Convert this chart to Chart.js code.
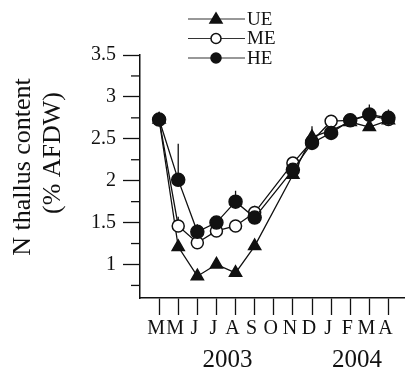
<!DOCTYPE html>
<html>
<head>
<meta charset="utf-8">
<script src="https://cdn.jsdelivr.net/npm/chart.js@4/dist/chart.umd.min.js"></script>
<style>
  html, body { margin: 0; padding: 0; background: #fff; }
  #wrap { width: 413px; height: 370px; }
</style>
</head>
<body>
<div id="wrap"><canvas id="nChart" width="413" height="370"></canvas></div>
<script>
// months May 2003 .. Apr 2004 (no sample in October)
const MONTHS = ['M', 'M', 'J', 'J', 'A', 'S', 'O', 'N', 'D', 'J', 'F', 'M', 'A'];
const YEARS = ['2003', '2004'];
const YEAR_AT = [3.58, 10.35];
const Y_TICKS = [1, 1.5, 2, 2.5, 3, 3.5];
const Y_MINOR = [0.75, 1.25, 1.75, 2.25, 2.75, 3.25];

const UE = [2.73, 1.21, 0.86, 1.00, 0.90, 1.22, null, 2.07, 2.52, 2.60, 2.70, 2.64, 2.72];
const ME = [2.73, 1.46, 1.26, 1.40, 1.46, 1.62, null, 2.21, 2.47, 2.71, 2.72, 2.78, 2.73];
const HE = [2.73, 2.01, 1.39, 1.50, 1.75, 1.56, null, 2.13, 2.45, 2.57, 2.72, 2.79, 2.75];

// upper error bar lengths
const UE_ERR = [0.06, 0, 0, 0, 0, 0, null, 0, 0.13, 0, 0, 0, 0];
const ME_ERR = [0.05, 0.11, 0.04, 0, 0, 0.08, null, 0.05, 0, 0, 0, 0, 0];
const HE_ERR = [0.08, 0.43, 0.09, 0.07, 0.13, 0.03, null, 0, 0, 0, 0, 0.12, 0.10];

const INK = '#111';
const SERIF = '"Liberation Serif", "Times New Roman", serif';

const toPoints = arr => arr.map((v, i) => ({x: i, y: v})).filter(p => p.y !== null);

const series = [
  {label: 'UE', data: UE, err: UE_ERR, style: 'triangle', fill: INK, r: 7},
  {label: 'ME', data: ME, err: ME_ERR, style: 'circle', fill: '#fff', r: 6},
  {label: 'HE', data: HE, err: HE_ERR, style: 'circle', fill: INK, r: 6.5}
];

const errorBars = {
  id: 'errorBars',
  beforeDatasetsDraw(chart) {
    const {ctx, scales: {x, y}} = chart;
    ctx.save();
    ctx.strokeStyle = INK;
    ctx.lineWidth = 1.3;
    series.forEach(s => {
      s.err.forEach((e, i) => {
        if (!e || s.data[i] === null) return;
        const px = x.getPixelForValue(i);
        ctx.beginPath();
        ctx.moveTo(px, y.getPixelForValue(s.data[i]));
        ctx.lineTo(px, y.getPixelForValue(s.data[i] + e));
        ctx.stroke();
      });
    });
    ctx.restore();
  }
};

const extras = {
  id: 'extras',
  afterDraw(chart) {
    const {ctx, scales: {x, y}} = chart;
    ctx.save();
    ctx.strokeStyle = INK;
    ctx.fillStyle = INK;
    ctx.lineWidth = 1.3;

    // minor y ticks
    Y_MINOR.forEach(v => {
      const py = y.getPixelForValue(v);
      ctx.beginPath();
      ctx.moveTo(x.left - 9, py);
      ctx.lineTo(x.left, py);
      ctx.stroke();
    });

    // years under month labels
    ctx.font = '25px ' + SERIF;
    ctx.textAlign = 'center';
    ctx.textBaseline = 'middle';
    YEARS.forEach((t, i) => ctx.fillText(t, x.getPixelForValue(YEAR_AT[i]), 360));

    // y axis title
    ctx.font = '26px ' + SERIF;
    ctx.save();
    ctx.translate(23, 167);
    ctx.rotate(-Math.PI / 2);
    ctx.fillText('N thallus content', 0, 0);
    ctx.restore();
    ctx.save();
    ctx.translate(53, 153);
    ctx.rotate(-Math.PI / 2);
    ctx.fillText('(% AFDW)', 0, 0);
    ctx.restore();

    // legend
    ctx.font = '19px ' + SERIF;
    ctx.textAlign = 'left';
    const rows = [19, 38.5, 58];
    series.forEach((s, i) => {
      const ly = rows[i];
      ctx.strokeStyle = '#333';
      ctx.lineWidth = 1.2;
      ctx.beginPath();
      ctx.moveTo(188, ly);
      ctx.lineTo(245, ly);
      ctx.stroke();
      ctx.strokeStyle = INK;
      ctx.lineWidth = 1.5;
      ctx.fillStyle = s.fill;
      ctx.beginPath();
      if (s.style === 'triangle') {
        ctx.moveTo(216, ly - 6);
        ctx.lineTo(222, ly + 4);
        ctx.lineTo(210, ly + 4);
        ctx.closePath();
      } else {
        ctx.arc(216, ly, 5, 0, Math.PI * 2);
      }
      ctx.fill();
      ctx.stroke();
      ctx.fillStyle = INK;
      ctx.fillText(s.label, 247, ly + 1);
    });
    ctx.restore();
  }
};

new Chart(document.getElementById('nChart'), {
  type: 'line',
  data: {
    datasets: series.map(s => ({
      label: s.label,
      data: toPoints(s.data),
      borderColor: INK,
      borderWidth: 1.3,
      pointStyle: s.style,
      pointRadius: s.r,
      pointBackgroundColor: s.fill,
      pointBorderColor: INK,
      pointBorderWidth: 1.5,
      spanGaps: true,
      tension: 0
    })).reverse()
  },
  options: {
    responsive: false,
    animation: false,
    layout: {padding: {top: 55, right: 0, left: 0, bottom: 0}},
    plugins: {legend: {display: false}, tooltip: {enabled: false}},
    scales: {
      x: {
        type: 'linear',
        min: -1,
        max: 12.84,
        afterBuildTicks: s => { s.ticks = MONTHS.map((m, i) => ({value: i})); },
        afterFit: s => { s.height = 72; },
        ticks: {
          callback: (v) => MONTHS[v],
          color: INK,
          font: {family: SERIF, size: 20},
          padding: 2,
          labelOffset: -3,
          maxRotation: 0,
          autoSkip: false
        },
        grid: {drawOnChartArea: false, tickLength: 17, color: INK, tickWidth: 1.3},
        border: {color: INK, width: 1.5}
      },
      y: {
        min: 0.6,
        max: 3.5,
        afterBuildTicks: s => { s.ticks = Y_TICKS.map(v => ({value: v})); },
        afterFit: s => { s.width = 140; },
        ticks: {
          callback: v => String(v),
          color: INK,
          font: {family: SERIF, size: 20},
          padding: 7
        },
        grid: {drawOnChartArea: false, tickLength: 17, color: INK, tickWidth: 1.3},
        border: {color: INK, width: 1.5}
      }
    }
  },
  plugins: [errorBars, extras]
});
</script>
</body>
</html>
